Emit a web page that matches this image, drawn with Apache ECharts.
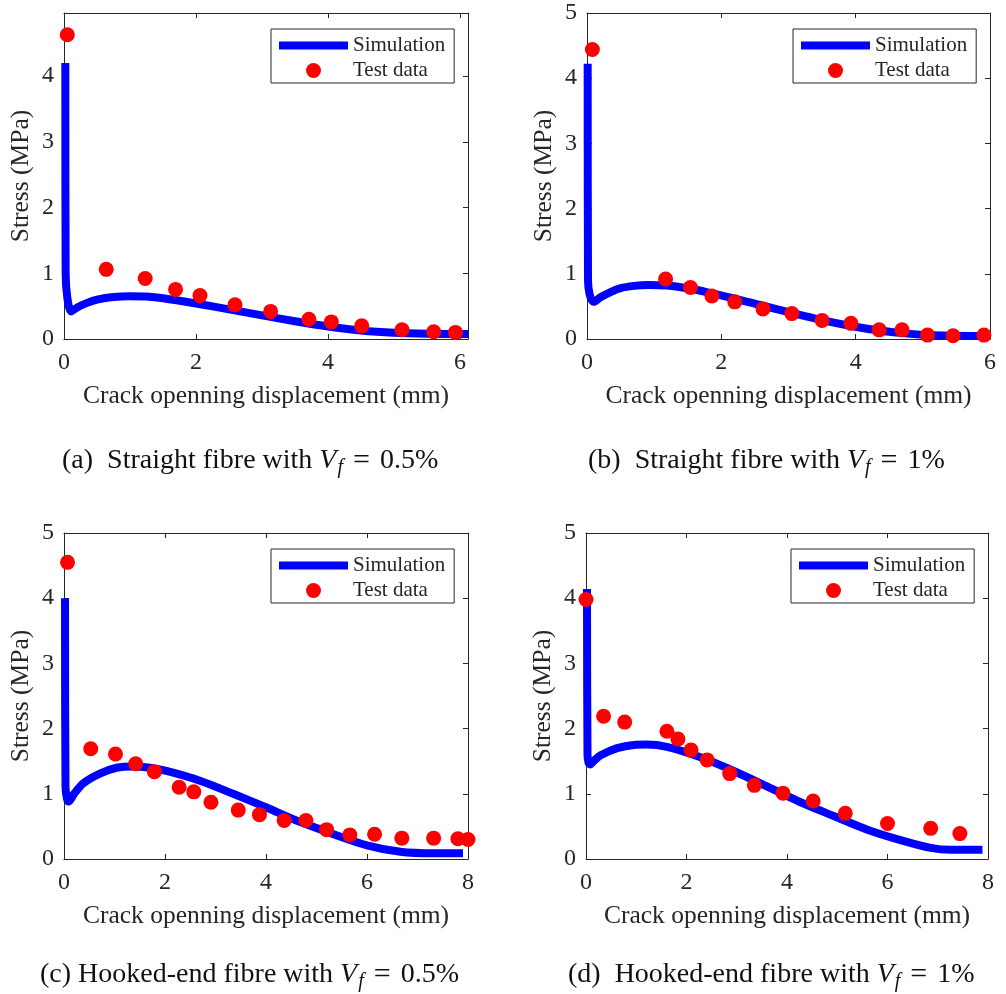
<!DOCTYPE html>
<html>
<head>
<meta charset="utf-8">
<script src="https://cdn.jsdelivr.net/npm/echarts@6/dist/echarts.min.js"></script>
<style>
  html, body { margin: 0; padding: 0; background: #ffffff; }
  #chart { width: 1006px; height: 994px; }
</style>
</head>
<body>
<div id="chart"></div>
<script>
// ---- (a) straight fibre, Vf = 0.5% ----
const simA = [[0.02,4.2],[0.025,1.0],[0.05,0.63],[0.11,0.42],[0.2,0.48],[0.35,0.55],[0.5,0.6],[0.75,0.64],[1.0,0.65],[1.25,0.645],[1.5,0.62],[2.0,0.54],[2.5,0.45],[3.0,0.36],[3.5,0.27],[4.0,0.19],[4.5,0.13],[5.0,0.095],[5.5,0.08],[6.12,0.075]];
const testA = [[0.05,4.63],[0.64,1.06],[1.23,0.92],[1.69,0.755],[2.06,0.66],[2.59,0.52],[3.13,0.42],[3.71,0.30],[4.05,0.26],[4.51,0.20],[5.12,0.14],[5.60,0.11],[5.93,0.10]];

// ---- (b) straight fibre, Vf = 1% ----
const simB = [[0.01,4.22],[0.015,0.9],[0.04,0.68],[0.1,0.57],[0.2,0.64],[0.35,0.72],[0.5,0.78],[0.7,0.815],[0.9,0.83],[1.19,0.82],[1.54,0.77],[1.86,0.7],[2.2,0.62],[2.62,0.51],[3.05,0.4],[3.5,0.29],[3.93,0.2],[4.35,0.13],[4.7,0.09],[5.07,0.06],[5.45,0.05],[6.0,0.045]];
const testB = [[0.08,4.44],[1.17,0.92],[1.54,0.79],[1.86,0.66],[2.20,0.57],[2.62,0.46],[3.05,0.39],[3.50,0.285],[3.93,0.24],[4.35,0.14],[4.69,0.14],[5.07,0.06],[5.45,0.05],[5.91,0.06]];

// ---- (c) hooked-end fibre, Vf = 0.5% ----
const simC = [[0.02,4.0],[0.03,1.1],[0.06,0.92],[0.09,0.88],[0.2,1.0],[0.38,1.16],[0.71,1.31],[1.04,1.4],[1.37,1.42],[1.7,1.4],[2.03,1.35],[2.69,1.2],[3.35,1.0],[4.01,0.79],[4.67,0.57],[5.34,0.38],[6.0,0.21],[6.66,0.11],[7.32,0.087],[7.9,0.087]];
const testC = [[0.07,4.55],[0.53,1.69],[1.02,1.61],[1.42,1.46],[1.79,1.34],[2.28,1.10],[2.57,1.03],[2.91,0.87],[3.45,0.75],[3.87,0.68],[4.36,0.59],[4.79,0.59],[5.20,0.45],[5.66,0.37],[6.15,0.38],[6.69,0.32],[7.32,0.32],[7.80,0.31],[8.0,0.30]];

// ---- (d) hooked-end fibre, Vf = 1% ----
const simD = [[0.02,4.14],[0.03,1.6],[0.05,1.48],[0.08,1.45],[0.15,1.5],[0.29,1.59],[0.62,1.7],[0.95,1.75],[1.2,1.755],[1.61,1.72],[2.28,1.56],[2.94,1.35],[3.61,1.11],[4.27,0.87],[4.93,0.66],[5.6,0.45],[6.26,0.29],[6.86,0.17],[7.26,0.14],[7.89,0.14]];
const testD = [[0.0,3.98],[0.35,2.19],[0.77,2.10],[1.61,1.96],[1.83,1.84],[2.09,1.67],[2.41,1.52],[2.86,1.31],[3.35,1.13],[3.92,1.01],[4.52,0.89],[5.16,0.70],[6.0,0.545],[6.86,0.47],[7.44,0.39]];

// axis extents and tick step per panel
const xMax = [6.12, 6, 8, 8];
const yMax = [4.96, 5, 5, 5];
const xStep = 2;
const yStep = 1;

const seriesNames = ['Simulation', 'Test data'];
const xTitle = 'Crack openning displacement (mm)';
const yTitle = 'Stress (MPa)';
const captionLabels = ['(a)  Straight fibre with ', '(b)  Straight fibre with ', '(c) Hooked-end fibre with ', '(d)  Hooked-end fibre with '];
const captionValues = ['0.5%', '1%', '0.5%', '1%'];

const simData = [simA, simB, simC, simD];
const testData = [testA, testB, testC, testD];

// layout
const grids = [
  { left: 64,  top: 13,  width: 404, height: 326 },
  { left: 587, top: 13,  width: 403, height: 326 },
  { left: 64,  top: 533, width: 404, height: 326 },
  { left: 586, top: 533, width: 402, height: 326 }
];
const legendPos = [
  { left: 271, top: 29 },
  { left: 793, top: 29 },
  { left: 271, top: 549 },
  { left: 791, top: 549 }
];
const captionPos = [
  { left: 62,  top: 446 },
  { left: 588, top: 446 },
  { left: 40,  top: 960 },
  { left: 568, top: 960 }
];

const FONT = "'Liberation Serif', 'Times New Roman', serif";
const INK = '#262626';
const TXT = '#111111';
const BLUE = '#0000ff';
const RED = '#ff0000';

const intLabel = v => (Math.abs(v - Math.round(v)) < 1e-9 ? String(Math.round(v)) : '');

function axisCommon(gridIndex, max, step, position, showLabels) {
  return {
    type: 'value',
    gridIndex: gridIndex,
    position: position,
    min: 0,
    max: max,
    interval: step,
    axisLine: { show: true, onZero: false, lineStyle: { color: INK, width: 1 } },
    axisTick: { show: true, inside: true, length: 5, lineStyle: { color: INK, width: 1 } },
    axisLabel: {
      show: showLabels,
      color: INK,
      fontFamily: FONT,
      fontSize: 24,
      margin: position === 'bottom' ? 12 : 10,
      formatter: intLabel
    },
    splitLine: { show: false }
  };
}

const xAxes = [], yAxes = [], series = [], legends = [], graphics = [];

grids.forEach((g, i) => {
  const xb = axisCommon(i, xMax[i], xStep, 'bottom', true);
  xb.name = xTitle;
  xb.nameLocation = 'middle';
  xb.nameGap = 44;
  xb.nameTextStyle = { color: INK, fontFamily: FONT, fontSize: 25.5 };
  xAxes.push(xb);
  xAxes.push(axisCommon(i, xMax[i], xStep, 'top', false));

  const yl = axisCommon(i, yMax[i], yStep, 'left', true);
  yl.name = yTitle;
  yl.nameLocation = 'middle';
  yl.nameGap = 30;
  yl.nameTextStyle = { color: INK, fontFamily: FONT, fontSize: 25.5 };
  yAxes.push(yl);
  yAxes.push(axisCommon(i, yMax[i], yStep, 'right', false));

  series.push({
    name: seriesNames[0],
    type: 'line',
    xAxisIndex: 2 * i,
    yAxisIndex: 2 * i,
    data: simData[i],
    showSymbol: false,
    symbol: 'none',
    smooth: 0.3,
    lineStyle: { color: BLUE, width: 8, cap: 'butt', join: 'round', opacity: 1 },
    itemStyle: { color: BLUE },
    z: 2
  });
  series.push({
    name: seriesNames[1],
    type: 'scatter',
    xAxisIndex: 2 * i,
    yAxisIndex: 2 * i,
    data: testData[i],
    symbol: 'circle',
    symbolSize: 15,
    itemStyle: { color: RED, opacity: 1 },
    clip: false,
    z: 3
  });

  legends.push({
    left: legendPos[i].left,
    top: legendPos[i].top,
    orient: 'vertical',
    backgroundColor: '#ffffff',
    borderColor: INK,
    borderWidth: 1,
    padding: [6, 9, 2, 8],
    itemWidth: 69,
    itemHeight: 15,
    itemGap: 4,
    selectedMode: false,
    textStyle: { color: INK, fontFamily: FONT, fontSize: 21 },
    data: [
      { name: seriesNames[0], icon: 'path://M0,0L69,0L69,8L0,8Z', itemStyle: { color: BLUE } },
      { name: seriesNames[1], icon: 'circle', itemStyle: { color: RED, opacity: 1 } }
    ]
  });

  graphics.push({
    type: 'text',
    left: captionPos[i].left,
    top: captionPos[i].top,
    style: {
      text: captionLabels[i] + '{v|V}{s|f}{e|=}{n|' + captionValues[i] + '}',
      fill: TXT,
      fontFamily: FONT,
      fontSize: 28,
      rich: {
        v: { fontFamily: FONT, fontSize: 28, fontStyle: 'italic', fill: TXT },
        s: { fontFamily: FONT, fontSize: 20, fontStyle: 'italic', fill: TXT, verticalAlign: 'bottom', padding: [14, 0, 0, 1] },
        e: { fontFamily: FONT, fontSize: 30, fill: TXT, padding: [0, 10, 0, 10] },
        n: { fontFamily: FONT, fontSize: 28, fill: TXT }
      }
    }
  });
});

const chart = echarts.init(document.getElementById('chart'), null, { renderer: 'canvas' });
chart.setOption({
  backgroundColor: '#ffffff',
  animation: false,
  grid: grids.map(g => Object.assign({ containLabel: false }, g)),
  xAxis: xAxes,
  yAxis: yAxes,
  legend: legends,
  series: series,
  graphic: graphics
});
</script>
</body>
</html>
